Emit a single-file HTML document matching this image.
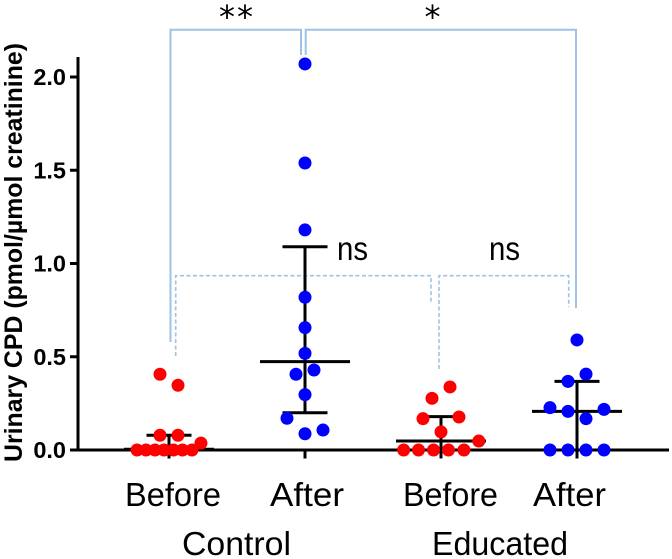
<!DOCTYPE html>
<html>
<head>
<meta charset="utf-8">
<title>Urinary CPD chart</title>
<style>
html,body{margin:0;padding:0;background:#fff;}
svg{display:block;}
text{fill:#000;}
.lbl{font-family:"Liberation Sans",sans-serif;font-size:33px;}
.tick{font-family:"Liberation Sans",sans-serif;font-size:23.5px;font-weight:bold;}
</style>
</head>
<body>
<svg id="chart" width="672" height="559" viewBox="0 0 672 559" xmlns="http://www.w3.org/2000/svg">
  <g id="brackets" fill="none" stroke="#9dc3e6" stroke-width="2">
    <path d="M170.5 342V29.7H301V55"/>
    <path d="M305.7 55V29.7H576V308"/>
    <path stroke-dasharray="4 2.5" stroke-width="1.6" d="M175.7 356V275.7H431V303"/>
    <path stroke-dasharray="4 2.5" stroke-width="1.6" d="M439 369V275.7H568.7V307"/>
  </g>
  <g id="errors"></g>
  <g id="axes"></g>
  <g id="dots"></g>

  <text transform="translate(22,462) rotate(-90)" font-family="'Liberation Sans',sans-serif" font-size="25" font-weight="bold" textLength="419" lengthAdjust="spacingAndGlyphs">Urinary CPD (pmol/µmol creatinine)</text>

  <text class="lbl" x="125" y="506" textLength="96" lengthAdjust="spacingAndGlyphs">Before</text>
  <text class="lbl" x="270" y="506" textLength="74" lengthAdjust="spacingAndGlyphs">After</text>
  <text class="lbl" x="403" y="506" textLength="95" lengthAdjust="spacingAndGlyphs">Before</text>
  <text class="lbl" x="533" y="506" textLength="73" lengthAdjust="spacingAndGlyphs">After</text>
  <text class="lbl" x="182" y="555" textLength="109" lengthAdjust="spacingAndGlyphs">Control</text>
  <text class="lbl" x="432" y="555" textLength="136" lengthAdjust="spacingAndGlyphs">Educated</text>
  <text class="lbl" x="337" y="260" textLength="31" lengthAdjust="spacingAndGlyphs">ns</text>
  <text class="lbl" x="489" y="260" textLength="31" lengthAdjust="spacingAndGlyphs">ns</text>
  <text x="219" y="28" font-family="'DejaVu Sans',sans-serif" font-size="32" textLength="34" lengthAdjust="spacing">**</text>
  <text x="432.5" y="28" text-anchor="middle" font-family="'DejaVu Sans',sans-serif" font-size="32">*</text>

<script>
var categories = ['control-before', 'control-after', 'educated-before', 'educated-after'];
var categoryColors = ['#ff0000', '#0000ff', '#ff0000', '#0000ff'];
var yTicks = [0, 0.5, 1, 1.5, 2];
var yTickLabels = ['0.0', '0.5', '1.0', '1.5', '2.0'];

var controlBeforeValues = [0.406, 0.347, 0.079, 0.079, 0.037, 0, 0, 0, 0, 0, 0, 0];
var controlBeforeSlots = [-1, 1, -1, 1, 3.55, -3.55, -2.55, -1.55, -0.55, 0.5, 1.5, 2.55];
var controlAfterValues = [2.07, 1.539, 1.18, 0.819, 0.656, 0.518, 0.406, 0.429, 0.297, 0.17, 0.087, 0.107];
var controlAfterSlots = [0, 0, 0, 0, 0, 0, -1, 1, 0, -2, 0, 2];
var educatedBeforeValues = [0.338, 0.277, 0.168, 0.177, 0.097, 0.048, 0, 0, 0, 0, 0];
var educatedBeforeSlots = [1, -1, -2, 2, 0, 4.2, -4.15, -2.5, -0.83, 0.83, 2.55];
var educatedAfterValues = [0.59, 0.407, 0.368, 0.227, 0.218, 0.207, 0.168, 0, 0, 0, 0];
var educatedAfterSlots = [0, 1, -1, -3, 3, -1, 1, -3, -1, 1, 3];

var seriesValues = [controlBeforeValues, controlAfterValues, educatedBeforeValues, educatedAfterValues];
var seriesSlots = [controlBeforeSlots, controlAfterSlots, educatedBeforeSlots, educatedAfterSlots];

var means = [0.004, 0.474, 0.048, 0.207];
var errorUpper = [0.079, 1.09, 0.179, 0.368];
var errorLower = [0, 0.2, 0, 0];

function yScale(v) { return 450 - v * 186.5; }
function xScale(i) { return 169 + i * 136; }
function slotScale(s) { return s * 9; }

var NS = 'http://www.w3.org/2000/svg';
function line(parent, x1, y1, x2, y2, w) {
  var l = document.createElementNS(NS, 'line');
  l.setAttribute('x1', x1);
  l.setAttribute('y1', y1);
  l.setAttribute('x2', x2);
  l.setAttribute('y2', y2);
  l.setAttribute('stroke', '#000');
  l.setAttribute('stroke-width', w);
  parent.appendChild(l);
  return l;
}

var axes = document.getElementById('axes');
var yAxis = line(axes, 78, 57, 78, 451.5, 3);


var xAxis = line(axes, 78, 450, 669, 450, 3);



yTicks.forEach(function (t, i) {
  var tk = line(axes, 70, yScale(t), 78, yScale(t), 3);
  
  
  var tx = document.createElementNS(NS, 'text');
  tx.setAttribute('class', 'tick');
  tx.setAttribute('x', 66);
  tx.setAttribute('y', yScale(t) + 8);
  tx.setAttribute('text-anchor', 'end');
  
  
  tx.textContent = yTickLabels[i];
  axes.appendChild(tx);
});

categories.forEach(function (c, i) {
  var tk = line(axes, xScale(i), 450, xScale(i), 458.5, 3);
  
  
});

var errors = document.getElementById('errors');
categories.forEach(function (c, i) {
  var cx = xScale(i);
  var stem = line(errors, cx, yScale(errorUpper[i]), cx, yScale(errorLower[i]), 3);
  
  
  var capU = line(errors, cx - 22.5, yScale(errorUpper[i]), cx + 22.5, yScale(errorUpper[i]), 3);
  
  
  var capL = line(errors, cx - 22.5, yScale(errorLower[i]), cx + 22.5, yScale(errorLower[i]), 3);
  
  
  var m = line(errors, cx - 45, yScale(means[i]), cx + 45, yScale(means[i]), 3);
  
  
});

var dots = document.getElementById('dots');
categories.forEach(function (c, i) {
  seriesValues[i].forEach(function (v, j) {
    var d = document.createElementNS(NS, 'circle');
    d.setAttribute('cx', xScale(i) + slotScale(seriesSlots[i][j]));
    d.setAttribute('cy', yScale(v));
    d.setAttribute('r', 6.5);
    d.setAttribute('fill', categoryColors[i]);
    
    
    dots.appendChild(d);
  });
});
</script>
</svg>
</body>
</html>
